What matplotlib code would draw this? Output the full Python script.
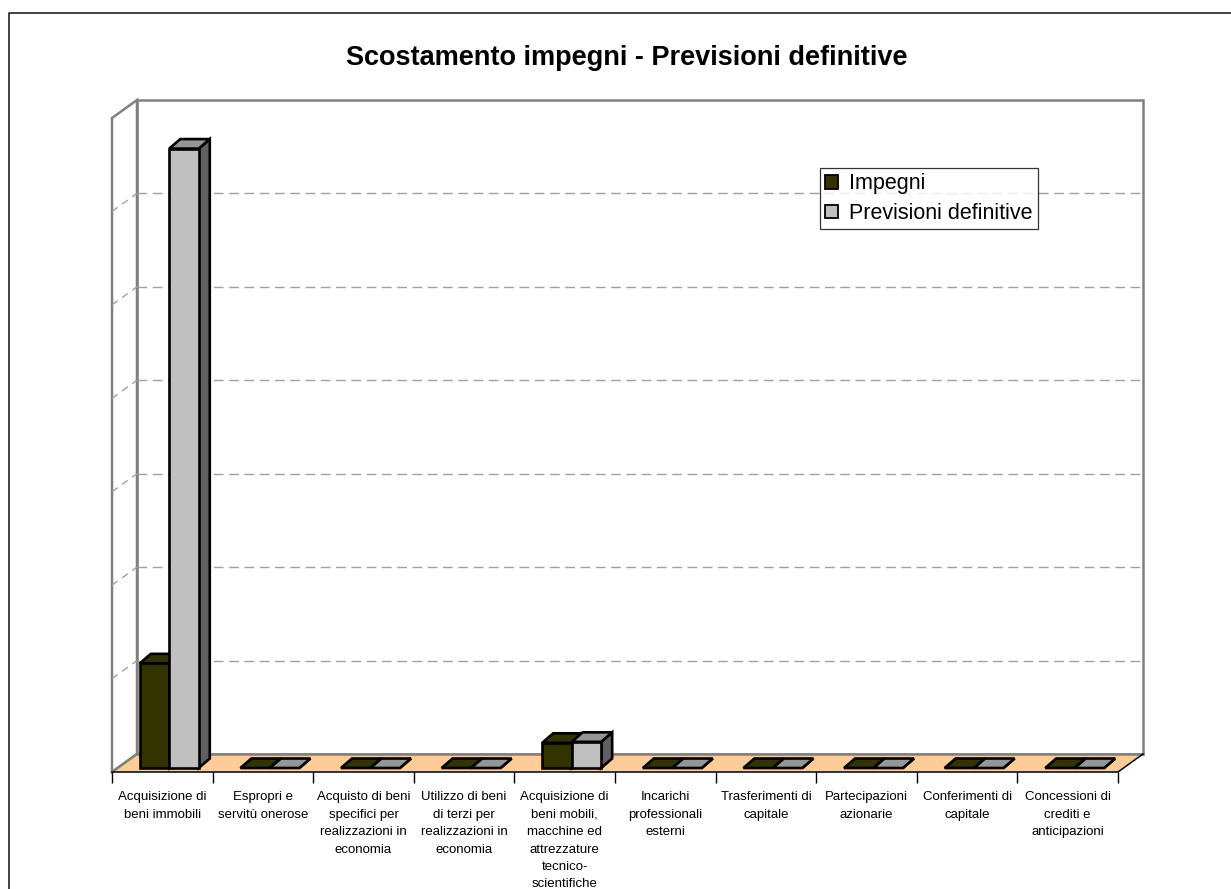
import numpy as np
import matplotlib
matplotlib.use("Agg")
import matplotlib.pyplot as plt
from matplotlib.patches import Polygon, Rectangle, Patch
from matplotlib.transforms import Affine2D, IdentityTransform
from matplotlib.lines import Line2D

plt.rcParams['font.family'] = ['Liberation Sans', 'DejaVu Sans']

# ---------------- data ----------------
categories = [
    "Acquisizione di\nbeni immobili",
    "Espropri e\nservitù onerose",
    "Acquisto di beni\nspecifici per\nrealizzazioni in\neconomia",
    "Utilizzo di beni\ndi terzi per\nrealizzazioni in\neconomia",
    "Acquisizione di\nbeni mobili,\nmacchine ed\nattrezzature\ntecnico-\nscientifiche",
    "Incarichi\nprofessionali\nesterni",
    "Trasferimenti di\ncapitale",
    "Partecipazioni\nazionarie",
    "Conferimenti di\ncapitale",
    "Concessioni di\ncrediti e\nanticipazioni",
]
impegni = [1.12, 0, 0, 0, 0.27, 0, 0, 0, 0, 0]
previsioni = [6.63, 0, 0, 0, 0.28, 0, 0, 0, 0, 0]
series_names = ["Impegni", "Previsioni definitive"]
title = "Scostamento impegni - Previsioni definitive"

# ---------------- figure ----------------
W, H = 1231, 889
fig = plt.figure(figsize=(W / 100, H / 100), dpi=100)
fig.patch.set_facecolor('white')

ax = fig.add_axes([112 / W, 1 - 772 / H, 1006 / W, 654 / H])
n = len(categories)
ymax = 7
ax.set_xlim(-0.5, n - 0.5)
ax.set_ylim(0, ymax)
ax.patch.set_visible(False)
for sp in ax.spines.values():
    sp.set_visible(False)
ax.set_yticks([])
ax.set_xticks(np.arange(-0.5, n, 1.0))
ax.set_xticklabels([])
ax.set_xticks(np.arange(n), minor=True)
ax.set_xticklabels(categories, minor=True, fontsize=9.5, linespacing=1.6)
ax.tick_params(axis='x', which='major', length=8, width=1.0, color='black')
ax.tick_params(axis='x', which='minor', length=0, pad=14)

D = np.array([25.0, 18.0])      # wall depth offset (px)
B0 = np.array([7.0, 4.0])       # bar front offset
DB = np.array([11.0, 9.5])      # bar depth
ident = IdentityTransform()
wallc = '#808080'


def P(x, y):
    return ax.transData.transform((x, y))


x0a, x1a = -0.5, n - 0.5

# back wall
ax.add_patch(Rectangle((x0a, 0), n, ymax, transform=ax.transData + Affine2D().translate(*D),
                       facecolor='white', edgecolor=wallc, lw=1.8, clip_on=False, zorder=1))
# left wall
lw_pts = [P(x0a, 0), P(x0a, ymax), P(x0a, ymax) + D, P(x0a, 0) + D]
ax.add_patch(Polygon(lw_pts, closed=True, transform=ident, facecolor='white',
                     edgecolor=wallc, lw=1.8, clip_on=False, zorder=1))
# floor
fl = [P(x0a, 0), P(x1a, 0), P(x1a, 0) + D, P(x0a, 0) + D]
ax.add_patch(Polygon(fl, closed=True, transform=ident, facecolor='#FFCC99',
                     edgecolor='none', clip_on=False, zorder=1.5))
ax.add_line(Line2D([fl[3][0], fl[2][0]], [fl[3][1], fl[2][1]], transform=ident,
                   color=wallc, lw=1.8, clip_on=False, zorder=1.6))
ax.add_line(Line2D([fl[0][0], fl[3][0]], [fl[0][1], fl[3][1]], transform=ident,
                   color=wallc, lw=1.8, clip_on=False, zorder=1.6))
ax.add_line(Line2D([fl[0][0], fl[1][0], fl[2][0]], [fl[0][1], fl[1][1], fl[2][1]],
                   transform=ident, color='black', lw=1.1, clip_on=False, zorder=1.7))

# gridlines
for k in range(1, ymax):
    a, b = P(x0a, k) + D, P(x1a, k) + D
    ax.add_line(Line2D([a[0], b[0]], [a[1], b[1]], transform=ident, color='#A0A0A0',
                       lw=1.0, dashes=(7, 4), clip_on=False, zorder=1.2))
    f = P(x0a, k)
    ax.add_line(Line2D([f[0], a[0]], [f[1], a[1]], transform=ident, color='#A0A0A0',
                       lw=1.0, dashes=(5, 4), clip_on=False, zorder=1.2))

# bars
w = 0.293
styles = [
    dict(front='#333300', top='#333300', side='#1E1E00'),
    dict(front='#C0C0C0', top='#969696', side='#606060'),
]
front_tr = ax.transData + Affine2D().translate(*B0)
z = 3
elw = 1.9
for i in range(n):
    for s, vals in enumerate([impegni, previsioni]):
        st = styles[s]
        x0 = i - w + s * w
        v = vals[i]
        side = [P(x0 + w, 0) + B0, P(x0 + w, v) + B0, P(x0 + w, v) + B0 + DB, P(x0 + w, 0) + B0 + DB]
        ax.add_patch(Polygon(side, closed=True, transform=ident, facecolor=st['side'],
                             edgecolor='black', lw=elw, joinstyle='miter', clip_on=False, zorder=z))
        top = [P(x0, v) + B0, P(x0 + w, v) + B0, P(x0 + w, v) + B0 + DB, P(x0, v) + B0 + DB]
        ax.add_patch(Polygon(top, closed=True, transform=ident, facecolor=st['top'],
                             edgecolor='black', lw=elw, joinstyle='miter', clip_on=False, zorder=z + 0.1))
        if v > 0:
            ax.add_patch(Rectangle((x0, 0), w, v, transform=front_tr, facecolor=st['front'],
                                   edgecolor='black', lw=elw, joinstyle='miter', clip_on=False,
                                   zorder=z + 0.2))
        z += 1

# legend
handles = [Patch(facecolor=styles[0]['front'], edgecolor='black', lw=1.3),
           Patch(facecolor=styles[1]['front'], edgecolor='black', lw=1.3)]
leg = ax.legend(handles, series_names, loc='upper left',
                bbox_to_anchor=(820 / W, 1 - 168 / H), bbox_transform=fig.transFigure,
                fontsize=15.5, frameon=True, fancybox=False, shadow=False,
                borderpad=0.25, borderaxespad=0, handlelength=0.6, handleheight=0.6,
                handletextpad=0.5, labelspacing=0.4)
leg.get_frame().set_edgecolor('black')
leg.get_frame().set_linewidth(0.9)
leg.set_zorder(100)

# title
fig.text(627 / W, 1 - 58 / H, title, ha='center', va='center', fontsize=19.5, fontweight='bold')

# outer border
fig.add_artist(Line2D([9 / W, 9 / W, 1.0], [0.0, 1 - 13 / H, 1 - 13 / H],
                      transform=fig.transFigure, color='#333333', lw=1.3))

fig.savefig('out.png', dpi=100)
